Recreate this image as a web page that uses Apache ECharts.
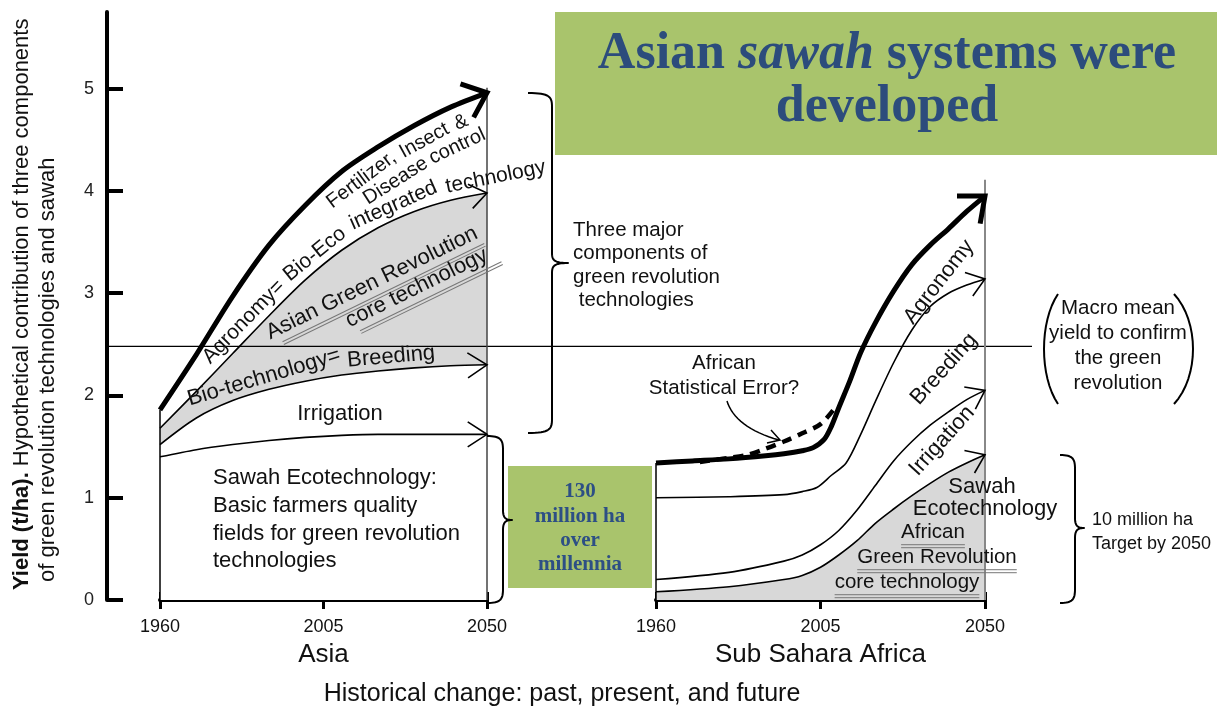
<!DOCTYPE html>
<html><head><meta charset="utf-8">
<script src="https://cdn.jsdelivr.net/npm/echarts@6/dist/echarts.min.js"></script>
<style>html,body{margin:0;padding:0;background:#fff;}#chart{width:1217px;height:710px;}</style>
</head><body><div id="chart"></div>
<script>
// ---------------- data ----------------
const yTickValues = [0, 1, 2, 3, 4, 5];
const xTickYears = [1960, 2005, 2050];
const yMax = 5.75;
const macroMeanYield = 2.48;

// Asia
const asiaFertilizer = [[1960,1.86],[1970,2.40],[1980,2.97],[1990,3.47],[2000,3.86],[2010,4.19],[2020,4.43],[2030,4.64],[2040,4.82],[2050,4.96]];
const asiaAgronomy   = [[1960,1.68],[1970,2.04],[1980,2.41],[1990,2.78],[2000,3.13],[2010,3.42],[2020,3.64],[2030,3.80],[2040,3.91],[2050,3.98]];
const asiaBreeding   = [[1960,1.52],[1970,1.78],[1980,1.95],[1990,2.06],[2000,2.14],[2010,2.20],[2020,2.24],[2030,2.27],[2040,2.29],[2050,2.30]];
const asiaIrrigation = [[1960,1.40],[1970,1.47],[1980,1.52],[1990,1.56],[2000,1.59],[2010,1.61],[2020,1.62],[2035,1.62],[2050,1.62]];

// Sub Sahara Africa
const africaTotal      = [[1960,1.34],[1970,1.36],[1980,1.38],[1990,1.41],[1995,1.43],[2000,1.46],[2003,1.49],[2006,1.57],[2008,1.70],[2010,1.88],[2013,2.14],[2016,2.42],[2020,2.71],[2025,3.02],[2030,3.28],[2035,3.47],[2040,3.63],[2045,3.80],[2050,3.95]];
const africaStatError  = [[1972,1.35],[1980,1.39],[1985,1.42],[1990,1.48],[1995,1.55],[2000,1.63],[2005,1.72],[2009,1.88]];
const africaAgronomy   = [[1960,1.00],[1980,1.01],[1995,1.03],[2000,1.06],[2004,1.10],[2008,1.22],[2012,1.34],[2016,1.62],[2020,1.94],[2025,2.32],[2030,2.64],[2035,2.87],[2040,3.00],[2045,3.08],[2050,3.14]];
const africaBreeding   = [[1960,0.20],[1980,0.27],[1995,0.38],[2000,0.44],[2005,0.54],[2010,0.68],[2015,0.88],[2020,1.12],[2025,1.36],[2030,1.55],[2035,1.71],[2040,1.84],[2045,1.96],[2050,2.05]];
const africaIrrigation = [[1960,0.08],[1980,0.13],[1995,0.20],[2000,0.24],[2005,0.32],[2010,0.44],[2015,0.58],[2020,0.75],[2025,0.89],[2030,1.02],[2035,1.14],[2040,1.25],[2045,1.34],[2050,1.42]];

// ---------------- chart ----------------
const SANS = "'Liberation Sans', Arial, Helvetica, sans-serif";
const SERIF = "'Liberation Serif', 'Times New Roman', serif";
const INK = '#111';
const GRAY = '#d8d8d8';
const GREEN = '#a9c46c';
const BLUE = '#2c4c7c';

const chart = echarts.init(document.getElementById('chart'), null, {renderer: 'canvas'});

function xAxes(gi, name) {
  return [{
    type: 'value', gridIndex: gi, min: 1960, max: 2050, position: 'bottom',
    name: name, nameLocation: 'middle', nameGap: 42,
    nameTextStyle: {fontSize: 26, color: INK, fontFamily: SANS},
    axisLine: {show: true, onZero: false, lineStyle: {color: '#000', width: 4}},
    axisTick: {show: true, inside: false, length: 9, lineStyle: {color: '#000', width: 3}, customValues: xTickYears},
    axisLabel: {show: true, customValues: xTickYears, fontSize: 18, color: INK, fontFamily: SANS, margin: 18,
      formatter: v => String(Math.round(v))},
    splitLine: {show: false}
  }, {
    type: 'value', gridIndex: gi, min: 1960, max: 2050, position: 'bottom',
    axisLine: {show: false, onZero: false},
    axisTick: {show: true, inside: true, length: 8, lineStyle: {color: '#000', width: 3}, customValues: xTickYears},
    axisLabel: {show: false}, splitLine: {show: false}
  }];
}

function line(name, data, xi, yi, width, opts) {
  opts = opts || {};
  const s = {
    name: name, type: 'line', xAxisIndex: xi, yAxisIndex: yi, data: data,
    smooth: 0.3, symbol: 'none', showSymbol: false,
    lineStyle: {color: '#000', width: width, type: opts.dash || 'solid', cap: 'butt', join: 'round'},
    z: opts.z || 3, silent: true
  };
  if (opts.area) s.areaStyle = {color: opts.area, opacity: 1, origin: 'start'};
  return s;
}

const option = {
  animation: false,
  backgroundColor: '#fff',
  textStyle: {fontFamily: SANS},
  grid: [
    {left: 160, top: 12, width: 327, height: 588, outerBoundsMode: 'none', containLabel: false},
    {left: 656, top: 12, width: 329, height: 588, outerBoundsMode: 'none', containLabel: false}
  ],
  xAxis: xAxes(0, 'Asia').concat(xAxes(1, 'Sub Sahara Africa')),
  yAxis: [{
    type: 'value', gridIndex: 0, min: 0, max: yMax, interval: 1, position: 'left', offset: 53,
    axisLine: {show: true, onZero: false, lineStyle: {color: '#000', width: 4}},
    axisTick: {show: true, inside: true, length: 16, lineStyle: {color: '#000', width: 4}, customValues: yTickValues},
    axisLabel: {customValues: yTickValues, fontSize: 18, color: '#222', margin: 13, fontFamily: SANS},
    splitLine: {show: false}
  }, {
    type: 'value', gridIndex: 1, min: 0, max: yMax, show: false
  }],
  series: [
    line('Asia agronomy', asiaAgronomy, 0, 0, 1.6, {area: GRAY, z: 2}),
    line('Asia breeding', asiaBreeding, 0, 0, 1.6, {area: '#fff', z: 3}),
    line('Asia irrigation', asiaIrrigation, 0, 0, 1.6, {z: 4}),
    line('Asia fertilizer', asiaFertilizer, 0, 0, 5, {z: 5}),
    line('Africa irrigation', africaIrrigation, 2, 1, 1.6, {area: GRAY, z: 2}),
    line('Africa breeding', africaBreeding, 2, 1, 1.6, {z: 3}),
    line('Africa agronomy', africaAgronomy, 2, 1, 1.6, {z: 3}),
    line('Africa statistical error', africaStatError, 2, 1, 4.5, {dash: [10, 7], z: 4}),
    line('Africa total', africaTotal, 2, 1, 5, {z: 5})
  ]
};
chart.setOption(option);

// ---------------- annotations (positioned through the axes) ----------------
const measureCtx = document.createElement('canvas').getContext('2d');
function measure(str, size, weight) {
  measureCtx.font = (weight || 'normal') + ' ' + size + 'px ' + SANS;
  return measureCtx.measureText(str).width;
}
function px(gi, p) { return chart.convertToPixel({gridIndex: gi}, p); }
function polyPx(gi, data) { return data.map(d => px(gi, d)); }
function cumLen(pts) {
  const L = [0];
  for (let i = 1; i < pts.length; i++) L.push(L[i - 1] + Math.hypot(pts[i][0] - pts[i - 1][0], pts[i][1] - pts[i - 1][1]));
  return L;
}
function pointAt(pts, L, s) {
  let i = 1;
  while (i < pts.length - 1 && L[i] < s) i++;
  const a = pts[i - 1], b = pts[i];
  const sg = L[i] - L[i - 1];
  const t = (s - L[i - 1]) / sg;
  return [a[0] + (b[0] - a[0]) * t, a[1] + (b[1] - a[1]) * t];
}
function arcAtX(pts, L, x) {
  for (let i = 1; i < pts.length; i++) {
    if (pts[i][0] >= x) {
      const t = (x - pts[i - 1][0]) / (pts[i][0] - pts[i - 1][0]);
      return L[i - 1] + (L[i] - L[i - 1]) * t;
    }
  }
  return L[L.length - 1];
}
function txt(str, x, y, size, o) {
  o = o || {};
  const st = {
    text: str, x: 0, y: 0, fill: o.color || INK,
    fontSize: size, fontFamily: o.family || SANS, fontWeight: o.weight || 'normal', fontStyle: o.style || 'normal',
    align: o.align || 'center', verticalAlign: 'middle', textAlign: o.align || 'center', textVerticalAlign: 'middle'
  };
  if (o.rich) st.rich = o.rich;
  return {type: 'text', x: x, y: y, rotation: (o.rot || 0) * Math.PI / 180, z: 100, silent: true, style: st};
}
function wordsAlong(gi, data, startYear, offset, words, size, gap) {
  const pts = polyPx(gi, data), L = cumLen(pts);
  let s = arcAtX(pts, L, px(gi, [startYear, 0])[0]);
  const sp = measure(' ', size) + (gap || 0);
  const out = [];
  words.forEach(w => {
    const ww = measure(w, size);
    const c = s + ww / 2;
    const p = pointAt(pts, L, c), p1 = pointAt(pts, L, c - ww / 2), p2 = pointAt(pts, L, c + ww / 2);
    let tx = p2[0] - p1[0], ty = p2[1] - p1[1];
    const n = Math.hypot(tx, ty); tx /= n; ty /= n;
    const nx = ty, ny = -tx;
    out.push(txt(w, p[0] + nx * offset, p[1] + ny * offset, size, {rot: Math.atan2(-ty, tx) * 180 / Math.PI}));
    s += ww + sp;
  });
  return out;
}
function arrowHead(gi, data, len, halfDeg, width) {
  const pts = polyPx(gi, data);
  const b = pts[pts.length - 1], a = pts[pts.length - 2];
  const ang = Math.atan2(b[1] - a[1], b[0] - a[0]);
  const h = halfDeg * Math.PI / 180;
  const p1 = [b[0] - len * Math.cos(ang - h), b[1] - len * Math.sin(ang - h)];
  const p2 = [b[0] - len * Math.cos(ang + h), b[1] - len * Math.sin(ang + h)];
  return {type: 'polyline', z: 60, silent: true, shape: {points: [p1, b, p2]},
    style: {stroke: '#000', lineWidth: width, fill: null, lineJoin: 'miter', lineCap: 'butt'}};
}
function seg(p1, p2, color, width, z) {
  return {type: 'line', z: z || 50, silent: true, shape: {x1: p1[0], y1: p1[1], x2: p2[0], y2: p2[1]},
    style: {stroke: color, lineWidth: width}};
}
// sampled bezier outlines (for braces / parentheses)
function curve(segments, width) {
  const pts = [];
  segments.forEach(sgm => {
    const [p0, c1, c2, p3] = sgm;
    for (let k = 0; k <= 16; k++) {
      const t = k / 16, u = 1 - t;
      pts.push([
        u * u * u * p0[0] + 3 * u * u * t * c1[0] + 3 * u * t * t * c2[0] + t * t * t * p3[0],
        u * u * u * p0[1] + 3 * u * u * t * c1[1] + 3 * u * t * t * c2[1] + t * t * t * p3[1]
      ]);
    }
  });
  return {type: 'polyline', z: 50, silent: true, shape: {points: pts},
    style: {stroke: '#000', lineWidth: width, fill: null, lineJoin: 'round'}};
}
function brace(xL, yTop, xSpine, xTip, yTip, yBot, width) {
  const r = 14, q = 10;
  return curve([
    [[xL, yTop], [xSpine - 2, yTop], [xSpine, yTop + 4], [xSpine, yTop + r]],
    [[xSpine, yTop + r], [xSpine, yTop + r], [xSpine, yTip - q], [xSpine, yTip - q]],
    [[xSpine, yTip - q], [xSpine, yTip - 3], [xSpine + 2, yTip], [xTip, yTip]],
    [[xTip, yTip], [xSpine + 2, yTip], [xSpine, yTip + 3], [xSpine, yTip + q]],
    [[xSpine, yTip + q], [xSpine, yTip + q], [xSpine, yBot - r], [xSpine, yBot - r]],
    [[xSpine, yBot - r], [xSpine, yBot - 4], [xSpine - 2, yBot], [xL, yBot]]
  ], width);
}
function paren(xEnd, yTop, xBulge, yBot, width) {
  const cx = xEnd + (xBulge - xEnd) * 4 / 3;
  return curve([[[xEnd, yTop], [cx, yTop + (yBot - yTop) * 0.25], [cx, yTop + (yBot - yTop) * 0.75], [xEnd, yBot]]], width);
}
function underlinedGroup(x, y, rot, items) {
  const children = [];
  items.forEach(it => {
    const w = measure(it.text, it.size);
    children.push(txt(it.text, it.dx, it.dy, it.size));
    const x1 = it.dx - w / 2 + (it.ulL || 0), x2 = it.dx + w / 2 + (it.ulR || 0);
    const uy = it.dy + it.size * 0.62;
    children.push({type: 'line', z: 100, silent: true, shape: {x1: x1, y1: uy, x2: x2, y2: uy}, style: {stroke: '#777', lineWidth: 1}});
    children.push({type: 'line', z: 100, silent: true, shape: {x1: x1, y1: uy + 3, x2: x2, y2: uy + 3}, style: {stroke: '#777', lineWidth: 1}});
  });
  return {type: 'group', x: x, y: y, rotation: rot * Math.PI / 180, z: 100, children: children};
}

const G = [];
// title boxes
G.push({type: 'rect', z: 1, silent: true, shape: {x: 555, y: 12, width: 662, height: 143}, style: {fill: GREEN}});
G.push(txt('Asian {i|sawah} systems were', 887, 55, 52, {family: SERIF, weight: 'bold', color: BLUE,
  rich: {i: {fontStyle: 'italic', fontWeight: 'bold', fontFamily: SERIF, fontSize: 52, fill: BLUE}}}));
G.push(txt('developed', 887, 108, 52, {family: SERIF, weight: 'bold', color: BLUE}));
G.push({type: 'rect', z: 1, silent: true, shape: {x: 508, y: 466, width: 144, height: 122}, style: {fill: GREEN}});
['130', 'million ha', 'over', 'millennia'].forEach((t, i) => G.push(txt(t, 580, 492 + i * 24.3, 21, {family: SERIF, weight: 'bold', color: '#2d4f85'})));

// y-axis title
G.push(txt('{b|Yield (t/ha).} Hypothetical contribution of three components', 22, 590, 22,
  {rot: 90, align: 'left', rich: {b: {fontWeight: 'bold', fontSize: 22, fontFamily: SANS, fill: INK}}}));
G.push(txt('of green revolution technologies and sawah', 48, 582, 22, {rot: 90, align: 'left'}));
G.push(txt('Historical change: past, present, and future', 562, 694, 25));

// reference lines
const yMacro = px(0, [1960, macroMeanYield])[1];
G.push(seg([107, yMacro], [1032, yMacro], '#000', 1.2, 40));
G.push(seg(px(0, [1960, asiaFertilizer[0][1]]), px(0, [1960, 0]), '#000', 1.5));
G.push(seg(px(0, [2050, asiaFertilizer[asiaFertilizer.length - 1][1] + 0.05]), px(0, [2050, 0]), '#444', 1.5));
G.push(seg(px(1, [1960, africaTotal[0][1]]), px(1, [1960, 0]), '#000', 1.5));
G.push(seg(px(1, [2050, africaTotal[africaTotal.length - 1][1] + 0.16]), px(1, [2050, 0]), '#888', 2));

// arrow heads
G.push(arrowHead(0, asiaFertilizer, 28, 40, 5));
G.push(arrowHead(0, asiaAgronomy, 21, 36, 1.6));
G.push(arrowHead(0, asiaBreeding, 23, 33, 1.6));
G.push(arrowHead(0, asiaIrrigation, 23, 33, 1.6));
G.push(arrowHead(1, africaTotal, 28, 40, 5));
G.push(arrowHead(1, africaAgronomy, 21, 36, 1.6));
G.push(arrowHead(1, africaBreeding, 21, 36, 1.6));
G.push(arrowHead(1, africaIrrigation, 21, 36, 1.6));

// labels along Asian curves
G.push(...wordsAlong(0, asiaFertilizer, 2004, -18, ['Fertilizer,', 'Insect', '&'], 20, 4));
G.push(...wordsAlong(0, asiaFertilizer, 2011, -38, ['Disease', 'control'], 20, 4));
G.push(...wordsAlong(0, asiaAgronomy, 1975.5, 14, ['Agronomy=', 'Bio-Eco', 'integrated', 'technology'], 21, 0));
G.push(...wordsAlong(0, asiaBreeding, 1969.5, 13, ['Bio-technology=', 'Breeding'], 22, -3));
G.push(underlinedGroup(372, 283, 26, [
  {text: 'Asian Green Revolution', size: 22, dx: 0, dy: 0, ulL: 10, ulR: 2},
  {text: 'core technology', size: 22, dx: 38, dy: 24, ulL: 8, ulR: 10}
]));
G.push(txt('Irrigation', 340, 414, 22));
['Sawah Ecotechnology:', 'Basic farmers quality', 'fields for green revolution', 'technologies'].forEach((t, i) =>
  G.push(txt(t, 213, 478 + i * 27.8, 22, {align: 'left'})));
['Three major', 'components of', 'green revolution', ' technologies'].forEach((t, i) =>
  G.push(txt(t, 573, 230 + i * 23.5, 20.5, {align: 'left'})));

// Africa labels
G.push(txt('African', 724, 363, 20.5));
G.push(txt('Statistical Error?', 724, 388, 20.5));
G.push(curve([[[727, 401], [732, 418], [750, 432], [779, 440]]], 1.5));
G.push({type: 'polyline', z: 60, silent: true, shape: {points: [[771, 430], [780, 440], [767, 443]]},
  style: {stroke: '#000', lineWidth: 1.5, fill: null}});
G.push(txt('Agronomy', 939, 282, 22, {rot: 52}));
G.push(txt('Breeding', 944, 369, 22, {rot: 48}));
G.push(txt('Irrigation', 942, 441, 22, {rot: 48}));
G.push(txt('Sawah', 982, 487, 22));
G.push(txt('Ecotechnology', 985, 509, 22));
G.push(underlinedGroup(933, 532, 0, [{text: 'African', size: 20.5, dx: 0, dy: 0}]));
G.push(underlinedGroup(937, 557, 0, [{text: 'Green Revolution', size: 20.5, dx: 0, dy: 0}]));
G.push(underlinedGroup(907, 582, 0, [{text: 'core technology', size: 20.5, dx: 0, dy: 0}]));

['Macro mean', 'yield to confirm', 'the green', 'revolution'].forEach((t, i) => G.push(txt(t, 1118, 308 + i * 25, 20.5)));
G.push(paren(1058, 294, 1044, 404, 2));
G.push(paren(1174, 294, 1193, 404, 2));
G.push(txt('10 million ha', 1092, 520, 18, {align: 'left'}));
G.push(txt('Target by 2050', 1092, 544, 18, {align: 'left'}));

// braces
G.push(brace(528, 93, 552, 568, 263, 433, 2));
G.push(brace(487, 436, 503, 512, 520, 603, 2));
G.push(brace(1060, 455, 1075, 1084, 528, 603, 2));

chart.setOption({graphic: {elements: G}});
</script>
</body></html>
